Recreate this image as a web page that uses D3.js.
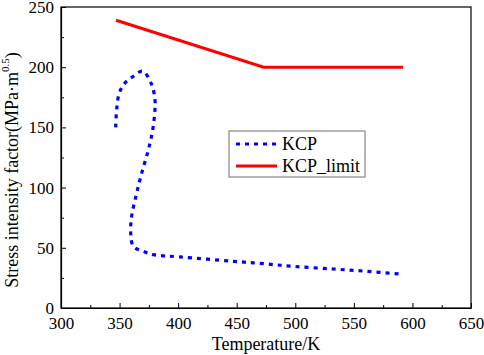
<!DOCTYPE html>
<html>
<head>
<meta charset="utf-8">
<script src="https://cdn.jsdelivr.net/npm/d3@7"></script>
<style>
  body { margin: 0; background: #fff; }
  svg text { font-family: "Liberation Serif", "Times New Roman", serif; fill: #000; }
</style>
</head>
<body>
<svg id="chart" width="484" height="355"></svg>
<script>
// KCP curve (temperature K, stress intensity factor)
const kcpT = [346.7, 347.5, 349.8, 354.6, 361.7, 369.7, 377.4, 380.2, 380.2, 378.3, 374.6, 368.9, 364.6, 360.3, 359.5, 361.8, 370.3, 378.8, 401.6, 447.1, 472.7, 498.3, 532.5, 560.9, 589.4];
const kcpK = [150, 164.6, 178.6, 186.9, 192.4, 196.6, 185.5, 173, 164.7, 148, 131.5, 112, 95.5, 76, 62.3, 51.2, 47, 44.3, 42.4, 38.8, 36.8, 34.6, 32.4, 30.5, 28.2];

// KCP limit
const limitT = [347, 473, 592];
const limitK = [239, 200, 200];

const xTicks = [300, 350, 400, 450, 500, 550, 600, 650];
const yTicks = [0, 50, 100, 150, 200, 250];

const FONT = '"Liberation Serif", "Times New Roman", serif';
const svg = d3.select('#chart');
const m = { left: 61, right: 471, top: 7, bottom: 308 };

const x = d3.scaleLinear().domain([300, 650]).range([m.left, m.right]);
const y = d3.scaleLinear().domain([0, 250]).range([m.bottom, m.top]);

// frame
svg.append('rect')
  .attr('x', m.left).attr('y', m.top)
  .attr('width', m.right - m.left).attr('height', m.bottom - m.top)
  .attr('fill', 'none').attr('stroke', '#000').attr('stroke-width', 1.2);

// axes, ticks pointing inward
const xAxis = svg.append('g').attr('transform', `translate(0,${m.bottom})`)
  .call(d3.axisBottom(x).tickValues(xTicks).tickSizeInner(-5).tickSizeOuter(0).tickPadding(9));
const yAxis = svg.append('g').attr('transform', `translate(${m.left},0)`)
  .call(d3.axisLeft(y).tickValues(yTicks).tickSizeInner(-5).tickSizeOuter(0).tickPadding(7));

// minor ticks
svg.append('g').attr('transform', `translate(0,${m.bottom})`)
  .call(d3.axisBottom(x).tickValues(d3.range(325, 650, 50)).tickSize(-3).tickFormat(''))
  .call(g => g.select('.domain').remove());
svg.append('g').attr('transform', `translate(${m.left},0)`)
  .call(d3.axisLeft(y).tickValues(d3.range(25, 250, 50)).tickSize(-3).tickFormat(''))
  .call(g => g.select('.domain').remove());

[xAxis, yAxis].forEach(a => {
  a.attr('font-family', FONT).attr('font-size', 17);
  a.selectAll('text').attr('font-family', FONT).attr('font-size', 17);
  a.select('.domain').attr('stroke-width', 1.2);
});

// axis titles
svg.append('text')
  .attr('x', 266).attr('y', 350)
  .attr('text-anchor', 'middle').attr('font-size', 18)
  .text('Temperature/K');

const yt = svg.append('text')
  .attr('transform', `translate(18,170) rotate(-90)`)
  .attr('text-anchor', 'middle').attr('font-size', 18);
yt.append('tspan').text('Stress intensity factor(MPa·m');
yt.append('tspan').attr('dy', -9).attr('font-size', 11).text('0.5');
yt.append('tspan').attr('dy', 9).text(')');

const line = d3.line().x(d => x(d[0])).y(d => y(d[1]));

svg.append('path')
  .datum(limitT.map((t, i) => [t, limitK[i]]))
  .attr('d', line)
  .attr('fill', 'none').attr('stroke', '#ff0000').attr('stroke-width', 3);

svg.append('path')
  .datum(kcpT.map((t, i) => [t, kcpK[i]]))
  .attr('d', line.curve(d3.curveCatmullRom))
  .attr('fill', 'none').attr('stroke', '#0000ff').attr('stroke-width', 3.2)
  .attr('stroke-dasharray', '4,5');

// legend
const lg = svg.append('g');
lg.append('rect')
  .attr('x', 229).attr('y', 131).attr('width', 136).attr('height', 46)
  .attr('fill', '#fff').attr('stroke', '#888').attr('stroke-width', 1.2);
const items = [
  { name: 'KCP', color: '#0000ff', dash: '4,5', yy: 144 },
  { name: 'KCP_limit', color: '#ff0000', dash: null, yy: 166 }
];
items.forEach(it => {
  lg.append('line')
    .attr('x1', 236).attr('x2', 277).attr('y1', it.yy).attr('y2', it.yy)
    .attr('stroke', it.color).attr('stroke-width', 3.2)
    .attr('stroke-dasharray', it.dash);
  lg.append('text')
    .attr('x', 282).attr('y', it.yy + 6)
    .attr('font-size', 18)
    .text(it.name);
});
</script>
</body>
</html>
